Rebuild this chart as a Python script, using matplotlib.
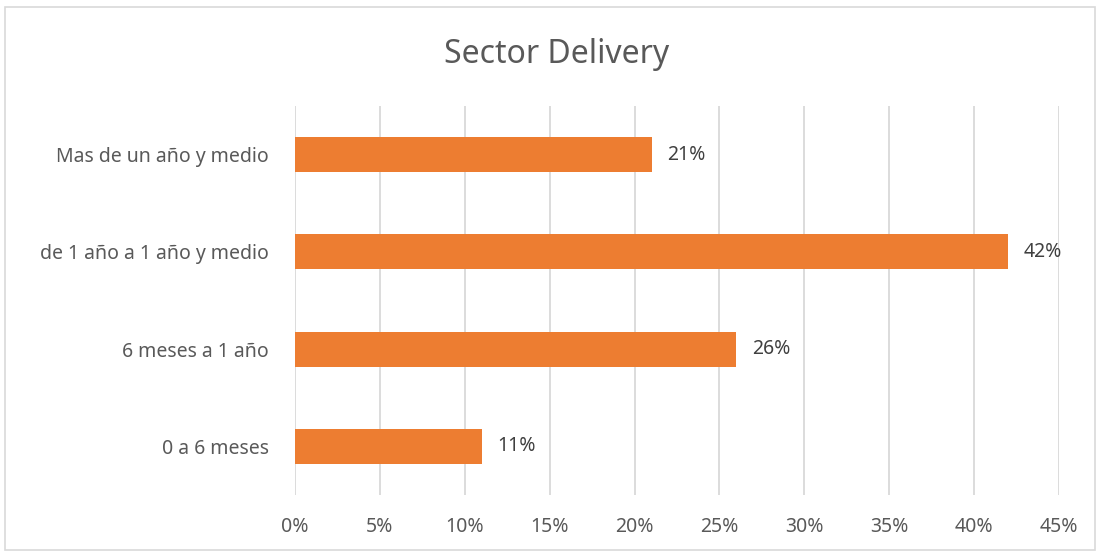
import matplotlib.pyplot as plt
from matplotlib.patches import Rectangle
from matplotlib.ticker import MultipleLocator, FuncFormatter

categories = ["0 a 6 meses", "6 meses a 1 año", "de 1 año a 1 año y medio", "Mas de un año y medio"]
values = [0.11, 0.26, 0.42, 0.21]
labels = ["11%", "26%", "42%", "21%"]

plt.rcParams["font.family"] = ["Noto Sans", "DejaVu Sans"]

fig = plt.figure(figsize=(11, 5.54), dpi=100)
ax = fig.add_axes([0.2682, 0.1065, 0.6945, 0.7022])

# bars, one per category
ypos = range(len(categories))
ax.barh(ypos, values, height=0.36, color="#ED7D31", zorder=3)

for y, v, lab in zip(ypos, values, labels):
    ax.text(v + 0.009, y, lab, va="center", ha="left", fontsize=14, color="#404040")

ax.set_xlim(0, 0.45)
ax.set_ylim(-0.5, len(categories) - 0.5)
ax.xaxis.set_major_locator(MultipleLocator(0.05))
ax.xaxis.set_major_formatter(FuncFormatter(lambda x, _: f"{x * 100:.0f}%"))
ax.set_yticks(list(ypos))
ax.set_yticklabels(categories)

ax.grid(axis="x", color="#D9D9D9", linewidth=1.3, zorder=0)
ax.tick_params(axis="both", length=0, labelsize=14, colors="#595959")
ax.tick_params(axis="y", pad=19)
ax.tick_params(axis="x", pad=16)
for s in ax.spines.values():
    s.set_visible(False)

fig.text(0.506, 1 - 54 / 554, "Sector Delivery", ha="center", va="center",
         fontsize=23, color="#595959")

# light frame round the whole chart
fig.patches.append(Rectangle((5 / 1100, 4 / 554), 1090 / 1100, 543 / 554,
                             transform=fig.transFigure, fill=False,
                             edgecolor="#D9D9D9", linewidth=1.2))

fig.savefig("out.png", dpi=100)
